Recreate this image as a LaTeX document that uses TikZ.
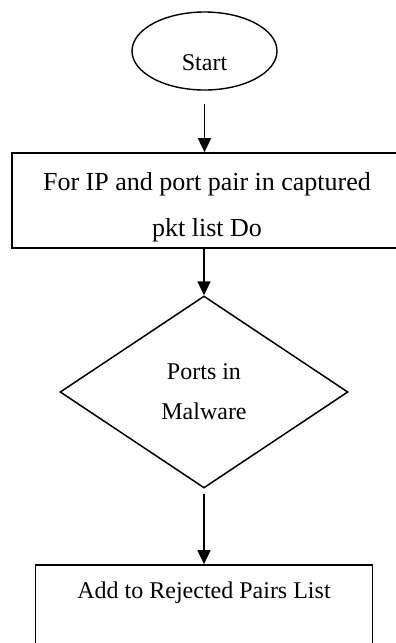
\documentclass[tikz,border=0pt]{standalone}
\usepackage{fontspec}
\setmainfont{Liberation Serif}
\usepackage{tikz}
\usetikzlibrary{shapes.geometric, arrows.meta, positioning, calc}

\begin{document}
\begin{tikzpicture}[x=0.5pt, y=-0.5pt,
    startoval/.style={draw, line width=0.7pt, ellipse, minimum width=72.5pt, minimum height=39pt, inner sep=0pt},
    stepbox/.style={draw, line width=0.85pt, rectangle, minimum width=195pt, minimum height=47.5pt, inner sep=0pt},
    decisionbox/.style={draw, line width=0.75pt, diamond, minimum width=144pt, minimum height=96pt, inner sep=0pt, align=center, font=\fontsize{12}{20}\selectfont},
    flowarrow/.style={line width=0.8pt, -{Triangle[width=6.5pt, length=7pt]}}]
    % Page frame (pixels of the reference)
    \clip (0,0) rectangle (396,643);

    % Start
    \node[startoval, label={[yshift=-6pt, font=\fontsize{12}{14}\selectfont]center:Start}] (start) at (204.5,51) {};

    % Loop over captured packets
    \node[stepbox, label={[yshift=-3.4pt, align=center, font=\fontsize{13}{23.3}\selectfont]center:For IP and port pair in captured\\pkt list Do}] (loop) at (207,200.5) {};

    % Decision
    \node[decisionbox] (decision) at (204,392) {Ports in\\Malware};

    % Rejected list (runs past the bottom edge)
    \node[stepbox, minimum width=168.5pt, label={[yshift=10pt, font=\fontsize{12}{14}\selectfont]center:Add to Rejected Pairs List}] (reject) at (204,612.5) {};

    % Arrows
    \draw[flowarrow, shorten <=6.5pt] (start.south) -- (start.south |- loop.north);
    \draw[flowarrow] (decision.north |- loop.south) -- (decision.north);
    \draw[flowarrow, shorten <=2.5pt] (decision.south) -- (reject.north);
\end{tikzpicture}
\end{document}
